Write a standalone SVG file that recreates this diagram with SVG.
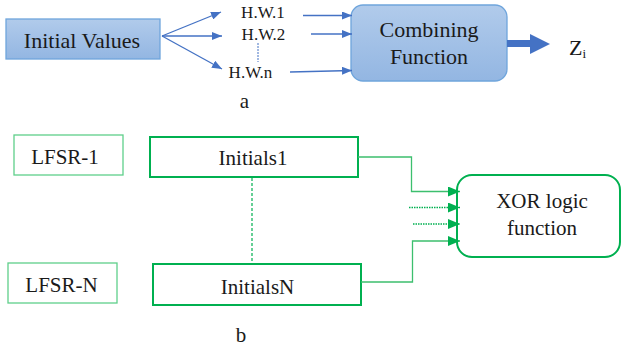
<svg xmlns="http://www.w3.org/2000/svg" width="621" height="350" viewBox="0 0 621 350">
<defs>
<linearGradient id="bg" x1="0" y1="0" x2="0" y2="1">
<stop offset="0" stop-color="#b1cbeb"/>
<stop offset="1" stop-color="#93b6e2"/>
</linearGradient>
<marker id="ab" viewBox="0 0 10 8" refX="10" refY="4" markerWidth="10" markerHeight="8" markerUnits="userSpaceOnUse" orient="auto">
<path d="M0,0 L10,4 L0,8 Z" fill="#4472c4"/>
</marker>
<marker id="ag" viewBox="0 0 12 10" refX="12" refY="5" markerWidth="12" markerHeight="10" markerUnits="userSpaceOnUse" orient="auto">
<path d="M0,0 L12,5 L0,10 Z" fill="#00b050"/>
</marker>
</defs>
<style>
text{font-family:"Liberation Serif","Times New Roman",serif;fill:#1a1a1a}
.t22{font-size:22px}
.t21{font-size:21px}
.t17{font-size:17px}
.bl{stroke:#4472c4;stroke-width:1.3;fill:none}
.gl{stroke:#3cbf6e;stroke-width:1.3;fill:none}
.gd{stroke:#00b050;stroke-width:1.3;fill:none;stroke-dasharray:1.5 1}
</style>
<g id="initial-values">
<rect x="6" y="19" width="154" height="40" fill="url(#bg)" stroke="#6fa5dc" stroke-width="1.3"/>
<text class="t22" x="82" y="48" text-anchor="middle">Initial Values</text>
</g>
<g id="hw1"><text class="t17" x="263" y="17.5" text-anchor="middle">H.W.1</text></g>
<g id="hw2"><text class="t17" x="263.5" y="39.5" text-anchor="middle">H.W.2</text></g>
<g id="hwn"><text class="t17" x="250.5" y="77.5" text-anchor="middle">H.W.n</text></g>
<g id="combining">
<rect x="351" y="5" width="156" height="76" rx="12" fill="url(#bg)" stroke="#6fa5dc" stroke-width="1.3"/>
<text class="t22" x="429" y="37" text-anchor="middle">Combining</text>
<text class="t22" x="429" y="64" text-anchor="middle">Function</text>
</g>
<g id="zi"><text class="t22" x="569" y="55">Z<tspan font-size="13" dy="3">i</tspan></text></g>
<g id="label-a"><text class="t21" x="244.5" y="108" text-anchor="middle">a</text></g>
<g id="lfsr1">
<rect x="14" y="135" width="109" height="40" fill="#fff" stroke="#5fcf8a" stroke-width="1.3"/>
<text class="t21" x="65" y="163.5" text-anchor="middle">LFSR-1</text>
</g>
<g id="lfsrn">
<rect x="8" y="263" width="109" height="40" fill="#fff" stroke="#5fcf8a" stroke-width="1.3"/>
<text class="t21" x="61.5" y="292" text-anchor="middle">LFSR-N</text>
</g>
<g id="initials1">
<rect x="150" y="137" width="208" height="40" fill="#fff" stroke="#00b050" stroke-width="2"/>
<text class="t21" x="253" y="165" text-anchor="middle">Initials1</text>
</g>
<g id="initialsn">
<rect x="153" y="264" width="208" height="41" fill="#fff" stroke="#00b050" stroke-width="2"/>
<text class="t21" x="257.5" y="293.5" text-anchor="middle">InitialsN</text>
</g>
<g id="xor">
<rect x="457" y="175" width="163" height="82" rx="15" fill="#fff" stroke="#00b050" stroke-width="2"/>
<text class="t21" x="542" y="208" text-anchor="middle">XOR logic</text>
<text class="t21" x="542" y="235" text-anchor="middle">function</text>
</g>
<g id="label-b"><text class="t21" x="241" y="342" text-anchor="middle">b</text></g>
<g id="connectors">
<line class="bl" x1="162" y1="36" x2="221" y2="12" marker-end="url(#ab)"/>
<line class="bl" x1="162" y1="36" x2="222" y2="36" marker-end="url(#ab)"/>
<line class="bl" x1="162" y1="36" x2="222" y2="69" marker-end="url(#ab)"/>
<line x1="258" y1="43" x2="258" y2="62" stroke="#4472c4" stroke-width="1" stroke-dasharray="2 1"/>
<line class="bl" x1="303" y1="15.5" x2="352" y2="15.5" marker-end="url(#ab)"/>
<line class="bl" x1="311" y1="34" x2="352" y2="34" marker-end="url(#ab)"/>
<line class="bl" x1="290" y1="72" x2="352" y2="70.5" marker-end="url(#ab)"/>
<line x1="507" y1="43.5" x2="531" y2="43.5" stroke="#4472c4" stroke-width="7"/>
<path d="M530,34 L550,44 L530,54 Z" fill="#4472c4"/>
<line x1="252" y1="178" x2="252" y2="263" stroke="#00b050" stroke-width="1.2" stroke-dasharray="3 2"/>
<polyline class="gl" points="358,157 411.5,157 411.5,191.5 460,191.5" marker-end="url(#ag)"/>
<line class="gd" x1="409" y1="207.5" x2="460" y2="207.5" marker-end="url(#ag)"/>
<line class="gd" x1="413" y1="224" x2="460" y2="224" marker-end="url(#ag)"/>
<polyline class="gl" points="361,282 412.5,282 412.5,241 460,241" marker-end="url(#ag)"/>
</g>
</svg>
